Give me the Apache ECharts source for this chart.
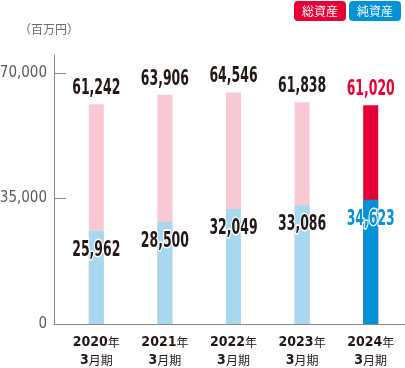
<!DOCTYPE html>
<html><head><meta charset="utf-8">
<script src="https://cdn.jsdelivr.net/npm/echarts@6/dist/echarts.min.js"></script>
<style>html,body{margin:0;padding:0;background:#fff}#c{width:405px;height:368px}</style>
</head><body><div id="c"></div>
<script>
var years = ['2020', '2021', '2022', '2023', '2024'];
var totalAssets = [61242, 63906, 64546, 61838, 61020];
var netAssets = [25962, 28500, 32049, 33086, 34623];
var yTicks = [0, 35000, 70000];

var NUM = "'DejaVu Sans Condensed', 'Liberation Sans Narrow', sans-serif";
var JP = "'Noto Sans CJK JP', sans-serif";
var last = years.length - 1;
var fmt = function (v) { return v.toLocaleString('en-US'); };

var totalData = totalAssets.map(function (v, i) {
  return { value: v, itemStyle: { color: i === last ? '#e50038' : '#f8c9d2' } };
});
var netData = netAssets.map(function (v, i) {
  return { value: v, itemStyle: { color: i === last ? '#0092d6' : '#a7d8f0' } };
});

function labelSeries(values, kind) {
  return {
    type: 'custom', xAxisIndex: 1, yAxisIndex: 1, z: 10, silent: true,
    data: values.map(function (v, i) { return [i, v]; }),
    renderItem: function (params, api) {
      var i = api.value(0), v = api.value(1);
      var pt = api.coord([i, v]);
      var isLast = i === last;
      var color = kind === 'total' ? (isLast ? '#e50038' : '#231815') : (isLast ? '#0092d6' : '#231815');
      return {
        type: 'text', x: pt[0], y: kind === 'total' ? pt[1] - 5 : pt[1] + 9,
        scaleX: 0.66,
        style: {
          text: fmt(v), fill: color, align: 'center',
          verticalAlign: kind === 'total' ? 'bottom' : 'top',
          font: 'bold 21px ' + NUM,
          stroke: kind === 'total' ? null : '#fff', lineWidth: kind === 'total' ? 0 : 3
        }
      };
    }
  };
}

var chart = echarts.init(document.getElementById('c'));
chart.setOption({
  animation: false,
  title: {
    text: '（百万円）', left: 14, top: 18,
    textStyle: { fontFamily: JP, fontSize: 12, fontWeight: 'normal', color: '#6e6e6e' }
  },
  legend: {
    right: 4, top: 1, padding: 0, itemWidth: 0, itemHeight: 0, itemGap: -2, icon: 'rect',
    selectedMode: false,
    data: [
      { name: '総資産', textStyle: { backgroundColor: '#e50038', color: '#fff', borderRadius: 4, padding: [3, 8, 3, 8], fontFamily: JP, fontSize: 12, lineHeight: 14 } },
      { name: '純資産', textStyle: { backgroundColor: '#0092d6', color: '#fff', borderRadius: 4, padding: [3, 8, 3, 8], fontFamily: JP, fontSize: 12, lineHeight: 14 } }
    ]
  },
  grid: [
    { left: 54, right: 0, top: 55, bottom: 44, containLabel: false, outerBoundsMode: 'none' },
    { left: 62, right: 0, top: 55, bottom: 44, containLabel: false, outerBoundsMode: 'none' }
  ],
  xAxis: [
    { gridIndex: 0, type: 'category', data: years,
      axisLine: { lineStyle: { color: '#8a8a8a', width: 1 } },
      axisTick: { show: false }, axisLabel: { show: false } },
    { gridIndex: 1, type: 'category', data: years,
      axisLine: { show: false }, axisTick: { show: false },
      axisLabel: {
        interval: 0, margin: 9,
        formatter: function (v) { return '{b|' + v + '}{k|年}\n{b|3}{k|月期}'; },
        rich: {
          b: { fontFamily: NUM, fontWeight: 'bold', fontSize: 14, color: '#231815', lineHeight: 18 },
          k: { fontFamily: JP, fontSize: 12, color: '#231815', lineHeight: 18 }
        }
      } }
  ],
  yAxis: [
    { gridIndex: 0, type: 'value', min: 0, max: 75000, interval: 35000,
      axisLine: { show: true, lineStyle: { color: '#8a8a8a', width: 1 } },
      axisTick: { show: true, inside: true, length: 12, lineStyle: { color: '#8a8a8a' }, customValues: yTicks },
      axisLabel: { margin: 7, customValues: yTicks, color: '#5a5a5a', fontFamily: NUM, fontSize: 15,
        formatter: function (v) { return yTicks.indexOf(v) < 0 ? '' : fmt(v); } },
      splitLine: { show: false } },
    { gridIndex: 1, type: 'value', min: 0, max: 75000, show: false, splitLine: { show: false } }
  ],
  series: [
    { name: '総資産', type: 'bar', xAxisIndex: 1, yAxisIndex: 1, barWidth: 15, data: totalData,
      itemStyle: { color: '#f8c9d2' } },
    { name: '純資産', type: 'bar', xAxisIndex: 1, yAxisIndex: 1, barWidth: 15, barGap: '-100%', data: netData,
      itemStyle: { color: '#0092d6' } },
    labelSeries(totalAssets, 'total'),
    labelSeries(netAssets, 'net')
  ]
});
</script></body></html>
